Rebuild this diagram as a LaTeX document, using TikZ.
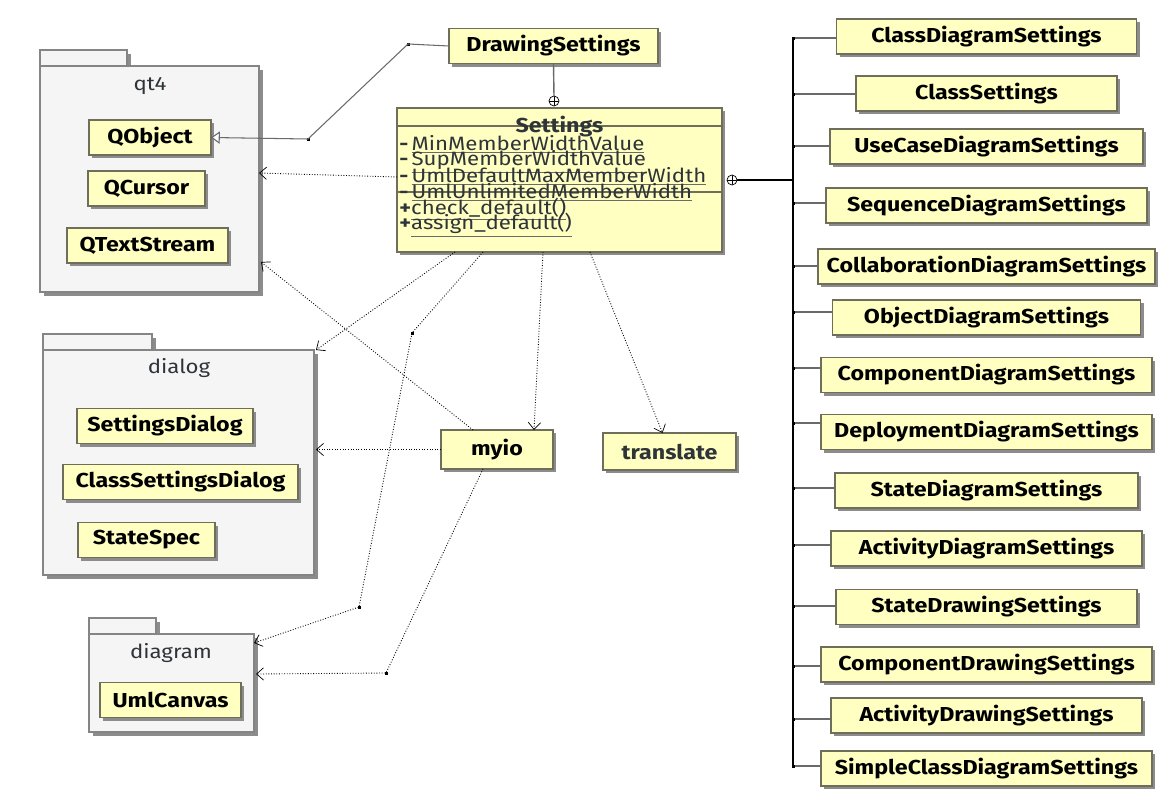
\documentclass[tikz,border=0pt]{standalone}
\usepackage{fontspec}
\setmainfont{Fira Sans}[FakeStretch=1.15]
\usetikzlibrary{positioning,arrows.meta,shadows}

\newdimen\pxu \pxu=0.02cm
\definecolor{clsfill}{HTML}{FFFFC2}
\definecolor{clsline}{HTML}{6E6E5A}
\definecolor{pkgfill}{HTML}{F5F5F5}
\definecolor{pkgline}{HTML}{858585}
\definecolor{shade}{HTML}{8C8C8C}
\definecolor{txtgray}{HTML}{2E3438}
\definecolor{stubgray}{HTML}{6A6A6A}

\newcommand\clsfont{\bfseries\fontsize{11.5}{13}\selectfont}
\newcommand\lblfont{\fontsize{11}{13}\selectfont}
\newcommand\mbrfont{\fontsize{11}{13}\selectfont}
\newcommand\umlstatic[1]{{\color{stubgray}$\underline{\hbox{\color{txtgray}#1}}$}}

\begin{document}
\begin{tikzpicture}[x=0.02cm, y=-0.02cm,
    cls/.style={draw=clsline, line width=0.6pt, fill=clsfill, font=\clsfont, text=black,
        inner sep=0pt, outer sep=0pt, minimum height=35\pxu,
        drop shadow={shadow xshift=3\pxu, shadow yshift=-3\pxu, fill=shade, opacity=1}},
    pkg/.style={draw=pkgline, line width=0.8pt, fill=pkgfill, inner sep=0pt, outer sep=0pt,
        drop shadow={shadow xshift=4\pxu, shadow yshift=-4\pxu, fill=shade, opacity=1}},
    pkglbl/.style={font=\lblfont, text=txtgray, inner sep=0pt},
    member/.style={anchor=base west, font=\mbrfont, text=txtgray, inner sep=0pt},
    dep/.style={line width=0.5pt, dash pattern=on 0.5pt off 1pt,
        -{Straight Barb[length=4pt, width=7pt, line width=0.4pt, sep=0pt]}},
    gen/.style={line width=0.6pt, draw=stubgray,
        -{Triangle[open, length=5pt, width=7pt, fill=white]}},
    nest/.style={circle, draw=black, line width=0.4pt, fill=white, minimum size=10\pxu,
        inner sep=0pt, outer sep=0pt,
        path picture={\draw[line width=0.4pt]
            (path picture bounding box.north) -- (path picture bounding box.south)
            (path picture bounding box.west) -- (path picture bounding box.east);}},
    stub/.style={line width=0.8pt, draw=stubgray},
    bus/.style={line width=1.2pt, draw=black},
    bendpt/.style={fill=black, minimum size=3\pxu, inner sep=0pt}]

    \useasboundingbox (0,0) rectangle (1170,801);
    \fill[white] (0,0) rectangle (1170,801);

    % packages
    \node[pkg, minimum width=87\pxu, minimum height=16\pxu] (qt4tab) at (83.5,58) {};
    \node[pkg, minimum width=219\pxu, minimum height=226\pxu] (qt4) at (149.5,179) {};
    \node[pkglbl] (qt4lbl) at (150,86) {qt4};
    \node[pkg, minimum width=109\pxu, minimum height=16\pxu] (dialogtab) at (97.5,342) {};
    \node[pkg, minimum width=271\pxu, minimum height=225\pxu] (dialog) at (178.5,462.5) {};
    \node[pkglbl] (dialoglbl) at (179,368) {dialog};
    \node[pkg, minimum width=67\pxu, minimum height=16\pxu] (diagramtab) at (122.5,626) {};
    \node[pkg, minimum width=165\pxu, minimum height=98\pxu] (diagram) at (171.5,683) {};
    \node[pkglbl] (diagramlbl) at (171,653) {diagram};

    % classes inside packages
    \node[cls, minimum width=122\pxu] (qobject) at (150,137.5) {QObject};
    \node[cls, minimum width=117\pxu] (qcursor) at (146.5,188.5) {QCursor};
    \node[cls, minimum width=161\pxu] (qtextstream) at (147.5,245.5) {QTextStream};
    \node[cls, minimum width=176\pxu] (settingsdlg) at (165,426) {SettingsDialog};
    \node[cls, minimum width=235\pxu] (classsettingsdlg) at (180.5,482) {ClassSettingsDialog};
    \node[cls, minimum width=137\pxu] (statespec) at (146.5,540) {StateSpec};
    \node[cls, minimum width=141\pxu] (umlcanvas) at (170.5,700) {UmlCanvas};

    % Settings and its neighbours
    \node[cls, minimum width=209\pxu] (ds) at (553.5,46) {DrawingSettings};
    \node[cls, minimum width=112\pxu, minimum height=39\pxu] (myio) at (497,449.5) {myio};
    \node[cls, minimum width=133\pxu, minimum height=37\pxu, text=txtgray] (translate) at (669.5,451.5) {translate};
    \node[cls, minimum width=325\pxu, minimum height=144\pxu] (settings) at (559.5,180) {};
    \draw[clsline, line width=0.6pt] (settings.west |- 0,126) -- (settings.east |- 0,126)
        (settings.west |- 0,192) -- (settings.east |- 0,192);
    \node[font=\clsfont, text=txtgray, anchor=base, inner sep=0pt] (settingsname) at (559.5,132) {Settings};
    \node[member] (m1) at (399,150) {\textbf{-}\,\umlstatic{MinMemberWidthValue}};
    \node[member] (m2) at (399,165.5) {\textbf{-}\,\umlstatic{SupMemberWidthValue}};
    \node[member] (m3) at (399,182) {\textbf{-}\,\umlstatic{UmlDefaultMaxMemberWidth}};
    \node[member] (m4) at (399,198) {\textbf{-}\,\umlstatic{UmlUnlimitedMemberWidth}};
    \node[member] (m5) at (399,214) {\textbf{+}\umlstatic{check\_default()}};
    \node[member] (m6) at (399,229.5) {\textbf{+}\umlstatic{assign\_default()}};

    % nesting
    \node[nest] (cp1) at (554,101) {};
    \node[nest] (cp2) at (732,180) {};
    \draw[stub] (ds.south) -- (cp1.north);
    \coordinate (hub) at (793,180);
    \draw[bus] (cp2.east) -- (hub);

    % nested settings column
    \foreach \nm/\lbl/\cy/\jy/\w in {
        cds/ClassDiagramSettings/36.5/38/300,
        cs/ClassSettings/93.5/94/261,
        ucds/UseCaseDiagramSettings/146.5/146/313,
        sqds/SequenceDiagramSettings/205.5/203/321,
        colds/CollaborationDiagramSettings/266.5/266/337,
        ods/ObjectDiagramSettings/317.5/312/308,
        cpds/ComponentDiagramSettings/375/368/331,
        dpds/DeploymentDiagramSettings/432/423/331,
        stds/StateDiagramSettings/490.5/488/303,
        acds/ActivityDiagramSettings/548.5/545/311,
        stdrs/StateDrawingSettings/607/606/301,
        cpdrs/ComponentDrawingSettings/664.5/666/331,
        acdrs/ActivityDrawingSettings/715.5/719/311,
        scds/SimpleClassDiagramSettings/768.5/766/331} {
        \node[cls, minimum width=\w\pxu] (\nm) at (986.5,\cy) {\lbl};
        \coordinate (j\nm) at (793,\jy);
        \draw[stub] (j\nm) -- (j\nm -| \nm.west);
        \fill (j\nm) ++(-1.5,-1.5) rectangle ++(3,3);
    }
    \draw[bus] (jcds) -- (jscds);

    % bend points
    \node[bendpt] (b1) at (408,44) {};
    \node[bendpt] (b2) at (308,139) {};
    \node[bendpt] (b3) at (412,333) {};
    \node[bendpt] (b4) at (359,607) {};
    \node[bendpt] (b5) at (386,673) {};

    % generalisation
    \draw[gen] (ds.west) -- (b1.center) -- (b2.center) -- (qobject.east);

    % dependencies
    \draw[dep] ([yshift=3\pxu]settings.west) -- ([yshift=6\pxu]qt4.east);
    \draw[dep] ([xshift=58\pxu]settings.south west) -- ([xshift=2\pxu]dialog.north east);
    \draw[dep] ([xshift=86\pxu]settings.south west) -- (b3.center) -- (b4.center) -- ([yshift=40\pxu]diagram.east);
    \draw[dep] ([xshift=146\pxu]settings.south west) -- ([xshift=37\pxu]myio.north);
    \draw[dep] ([xshift=193\pxu]settings.south west) -- ([xshift=-7\pxu]translate.north);
    \draw[dep] ([xshift=32\pxu]myio.north west) -- ([yshift=30\pxu,xshift=2\pxu]qt4.south east);
    \draw[dep] (myio.west) -- ([xshift=2\pxu]dialog.east |- myio.west);
    \draw[dep] ([xshift=42\pxu]myio.south west) -- (b5.center) -- ([yshift=9\pxu,xshift=2\pxu]diagram.east);
\end{tikzpicture}
\end{document}
